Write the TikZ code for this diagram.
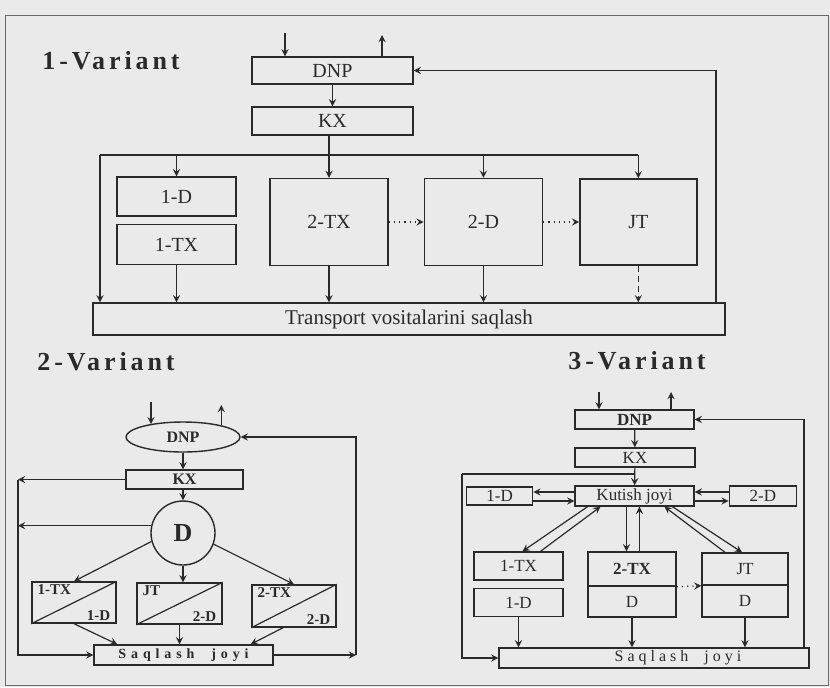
\documentclass[tikz,border=0pt]{standalone}
\usepackage{fontspec}
\setmainfont{Liberation Serif}
\newfontfamily\spacedfont[LetterSpace=15]{Liberation Serif}
\newfontfamily\widefont[LetterSpace=35]{Liberation Serif}
\newfontfamily\halfwidefont[LetterSpace=25]{Liberation Serif}
\usetikzlibrary{positioning,calc,shapes.geometric}
\definecolor{paper}{HTML}{EAEAEA}
\definecolor{ink}{HTML}{2A2A2A}
\newdimen\px \px=0.5pt

\begin{document}
\begin{tikzpicture}[x=0.5pt, y=-0.5pt,
  vtitle/.style={font=\spacedfont\bfseries\fontsize{13}{15}\selectfont, text=ink, inner sep=0pt},
  abox/.style={draw=ink, line width=0.7pt, inner sep=0pt, font=\fontsize{10}{12}\selectfont, text=ink},
  bbox/.style={abox, font=\bfseries\fontsize{8}{9}\selectfont},
  cbox/.style={abox, font=\fontsize{8.5}{10}\selectfont},
  tlab/.style={font=\bfseries\fontsize{7.5}{8}\selectfont, text=ink, inner xsep=3pt, inner ysep=1.5pt},
  varrow/.style={->, >=stealth, ink, line width=0.6pt},
  vline/.style={ink, line width=0.6pt},
  vdot/.style={varrow, dotted},
]
\useasboundingbox (0,0) rectangle (830,687);
\fill[paper] (0,0) rectangle (830,687);
\draw[ink!70, line width=0.4pt] (5,15) rectangle (828,685);

% 1-Variant
\node[vtitle] (t1) at (111,61) {1-Variant};
\node[abox, minimum width=161\px, minimum height=27\px] (dnp1) at (332.5,70.5) {DNP};
\node[abox, minimum width=161\px, minimum height=28\px] (kx1) at (332.5,121) {KX};
\node[abox, minimum width=119\px, minimum height=39\px] (d1) at (176.5,196.5) {1-D};
\node[abox, minimum width=119\px, minimum height=40\px, below=3.5pt of d1] (tx1) {1-TX};
\node[abox, minimum width=118\px, minimum height=87\px] (tx2) at (329,222) {2-TX};
\node[abox, minimum width=118\px, minimum height=87\px, right=17.5pt of tx2] (d2) {2-D};
\node[abox, minimum width=117\px, minimum height=86\px, right=18pt of d2] (jt1) {JT};
\node[abox, minimum width=632\px, minimum height=32\px, font=\fontsize{10.5}{12}\selectfont] (tr) at (409,319) {Transport vositalarini saqlash};
\coordinate (in1) at (285,33);
\coordinate (out1) at (382,35);
\coordinate (bl1) at (100,155);
\coordinate (fb1) at (716,72);
\draw[varrow] (in1) -- (in1 |- dnp1.north);
\draw[varrow] (out1 |- dnp1.north) -- (out1);
\draw[varrow] (dnp1) -- (kx1);
\draw[varrow] (kx1.south -| tx2.north) -- (tx2.north);
\draw[vline] (bl1) -- (bl1 -| jt1.north);
\draw[varrow] (bl1) -- (bl1 |- tr.north);
\draw[varrow] (bl1 -| d1.north) -- (d1.north);
\draw[varrow] (bl1 -| d2.north) -- (d2.north);
\draw[varrow] (bl1 -| jt1.north) -- (jt1.north);
\draw[varrow] (tx1.south) -- (tx1.south |- tr.north);
\draw[varrow] (tx2.south) -- (tx2.south |- tr.north);
\draw[varrow] (d2.south) -- (d2.south |- tr.north);
\draw[varrow, densely dashed] (jt1.south) -- (jt1.south |- tr.north);
\draw[vdot] (tx2) -- (d2);
\draw[vdot] (d2) -- (jt1);
\draw[varrow] (tr.north -| fb1) |- (dnp1.east);

% 2-Variant
\node[vtitle] (t2) at (106,362) {2-Variant};
\node[ellipse, draw=ink, line width=0.7pt, inner sep=0pt, minimum width=114\px, minimum height=30\px, font=\bfseries\fontsize{8}{9}\selectfont, text=ink] (dnp2) at (183,437) {DNP};
\node[bbox, minimum width=117\px, minimum height=19\px] (kx2) at (184.5,479.5) {KX};
\node[circle, draw=ink, line width=0.7pt, inner sep=0pt, minimum size=64\px, font=\bfseries\fontsize{13}{15}\selectfont, text=ink] (dc) at (183,533) {D};
\node[bbox, minimum width=84\px, minimum height=41\px] (tb1) at (74,602.5) {};
\node[bbox, minimum width=85\px, minimum height=41\px] (tb2) at (179.5,603.5) {};
\node[bbox, minimum width=84\px, minimum height=42\px] (tb3) at (294,606) {};
\draw[vline] (tb1.south west) -- (tb1.north east);
\draw[vline] (tb2.south west) -- (tb2.north east);
\draw[vline] (tb3.south west) -- (tb3.north east);
\node[tlab, anchor=north west] (tb1a) at (tb1.north west) {1-TX};
\node[tlab, anchor=south east] (tb1b) at (tb1.south east) {1-D};
\node[tlab, anchor=north west] (tb2a) at (tb2.north west) {JT};
\node[tlab, anchor=south east] (tb2b) at (tb2.south east) {2-D};
\node[tlab, anchor=north west] (tb3a) at (tb3.north west) {2-TX};
\node[tlab, anchor=south east] (tb3b) at (tb3.south east) {2-D};
\node[bbox, minimum width=179\px, minimum height=20\px, font=\widefont\bfseries\fontsize{7}{8}\selectfont] (sq2) at (183.5,655) {Saqlash\ \ joyi};
\coordinate (in2) at (151,402);
\coordinate (out2) at (220,405);
\coordinate (lb2) at (18,653);
\coordinate (rb2) at (356,656);
\draw[varrow] (in2) -- (in2 |- dnp2.159);
\draw[varrow] (dnp2.17) -- (dnp2.17 |- out2);
\draw[varrow] (dnp2.south) -- (dnp2.south |- kx2.north);
\draw[varrow] (kx2.south -| dc.north) -- (dc.north);
\draw[varrow] (kx2.west) -- (kx2.west -| lb2);
\draw[varrow] (dc.167) -- (dc.167 -| lb2);
\draw[varrow] (kx2.west -| lb2) |- (sq2.west);
\draw[varrow] (dc.195) -- (tb1.north);
\draw[varrow] (dc.south) -- (dc.south |- tb2.north);
\draw[varrow] (dc.-20) -- (tb3.north);
\draw[varrow] (tb1.south) -- ($(sq2.north west)+(24,0)$);
\draw[varrow] (tb2.south) -- (tb2.south |- sq2.north);
\draw[varrow] ($(tb3.south)+(-11,0)$) -- ($(sq2.north east)+(-23,0)$);
\draw[varrow] (sq2.east) -- (sq2.east -| rb2);
\draw[varrow] (sq2.east -| rb2) |- (dnp2.east);

% 3-Variant
\node[vtitle] (t3) at (637,361) {3-Variant};
\node[cbox, minimum width=119\px, minimum height=19\px, font=\bfseries\fontsize{8.5}{10}\selectfont] (dnp3) at (634.5,419.5) {DNP};
\node[cbox, minimum width=120\px, minimum height=19\px] (kx3) at (635,457.5) {KX};
\node[cbox, minimum width=119\px, minimum height=20\px] (ku) at (634.5,496) {Kutish joyi};
\node[cbox, minimum width=66\px, minimum height=18\px, left=20.5pt of ku] (d3a) {1-D};
\node[cbox, minimum width=67\px, minimum height=20\px, right=17pt of ku] (d3b) {2-D};
\node[cbox, minimum width=89\px, minimum height=28\px] (tx3a) at (518.5,566) {1-TX};
\node[cbox, minimum width=89\px, minimum height=28\px, below=3.5pt of tx3a] (d3c) {1-D};
\node[cbox, minimum width=88\px, minimum height=34\px, font=\bfseries\fontsize{8.5}{10}\selectfont] (tx3b) at (632,569) {2-TX};
\node[cbox, minimum width=88\px, minimum height=31\px, below=-0.7pt of tx3b] (d3d) {D};
\node[cbox, minimum width=86\px, minimum height=32\px] (jt3) at (745,569) {JT};
\node[cbox, minimum width=86\px, minimum height=32\px, below=-0.7pt of jt3] (d3e) {D};
\node[cbox, minimum width=310\px, minimum height=20\px, font=\halfwidefont\fontsize{8}{10}\selectfont] (sq3) at (654,658) {\hspace*{24pt}Saqlash\ \ joyi};
\coordinate (in3) at (599,392);
\coordinate (out3) at (671,392);
\coordinate (lb3) at (462,474);
\coordinate (rb3) at (804,0);
\coordinate (kd) at ($(ku.south)+(-8,0)$);
\coordinate (kup) at ($(ku.south)+(5,0)$);
\draw[varrow] (in3) -- (in3 |- dnp3.north);
\draw[varrow] (out3 |- dnp3.north) -- (out3);
\draw[varrow] (dnp3) -- (kx3);
\draw[varrow] (kx3) -- (ku);
\draw[vline] (lb3 -| kx3.south) -- (lb3);
\draw[varrow] (lb3) |- (sq3.west);
\draw[varrow] ($(ku.west)+(0,-4)$) -- ($(d3a.east)+(0,-4)$);
\draw[varrow] ($(d3a.east)+(0,5)$) -- ($(ku.west)+(0,5)$);
\draw[varrow] ($(d3b.west)+(0,-4)$) -- ($(ku.east)+(0,-4)$);
\draw[varrow] ($(ku.east)+(0,5)$) -- ($(d3b.west)+(0,5)$);
\draw[varrow] ($(ku.south)+(-47,0)$) -- ($(tx3a.north)+(4,0)$);
\draw[varrow] ($(tx3a.north)+(22,0)$) -- ($(ku.south)+(-34,0)$);
\draw[varrow] (kd) -- (kd |- tx3b.north);
\draw[varrow] (kup |- tx3b.north) -- (kup);
\draw[varrow] ($(jt3.north)+(-20,0)$) -- ($(ku.south)+(30,0)$);
\draw[varrow] ($(ku.south)+(38,0)$) -- ($(jt3.north)+(-3,0)$);
\draw[vdot] (tx3b.south east) -- (jt3.south west);
\draw[varrow] (d3c.south) -- (d3c.south |- sq3.north);
\draw[varrow] (d3d.south) -- (d3d.south |- sq3.north);
\draw[varrow] (d3e.south) -- (d3e.south |- sq3.north);
\draw[varrow] (sq3.north -| rb3) |- (dnp3.east);
\end{tikzpicture}
\end{document}
